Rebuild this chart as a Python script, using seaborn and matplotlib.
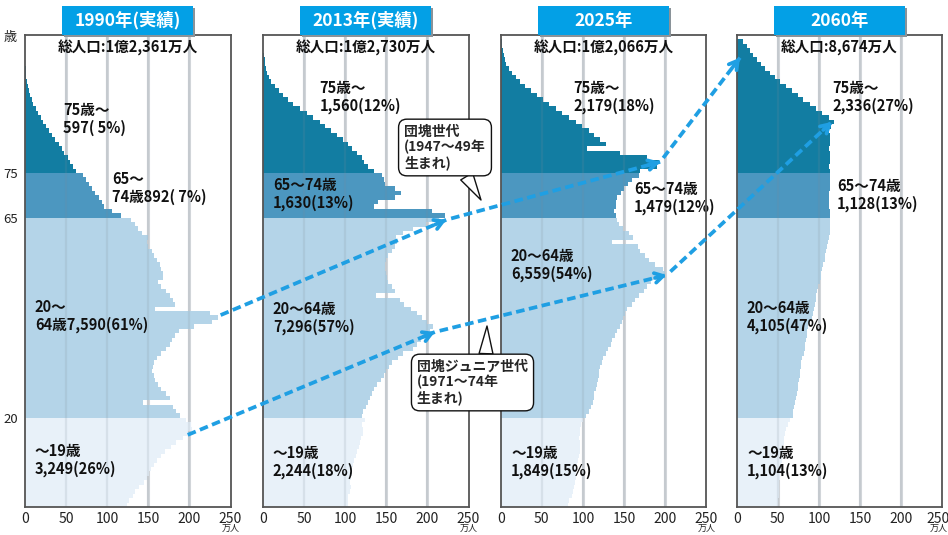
import numpy as np
import pandas as pd
import matplotlib
matplotlib.use("Agg")
import matplotlib.pyplot as plt
import matplotlib.transforms as mtransforms
import seaborn as sns
from matplotlib.patches import FancyBboxPatch, FancyArrowPatch
from matplotlib.lines import Line2D

# ---- data: population by single year of age (万人); list index = age ----
pop_1990 = [
    124, 127, 131, 134, 139, 145, 148, 151, 153, 157,
    160, 165, 170, 178, 184, 192, 198, 203, 202, 196,
    188, 184, 180, 143, 176, 172, 166, 162, 158, 157,
    155, 156, 157, 160, 165, 172, 176, 179, 182, 187,
    205, 228, 235, 225, 158, 182, 180, 176, 172, 165,
    162, 168, 168, 166, 164, 160, 157, 154, 150, 148,
    150, 142, 137, 134, 129,
    117, 106, 96, 94, 90, 85, 82, 78, 74, 70,
    62, 58, 55, 52, 48, 45, 41, 37, 33, 29,
    26, 22, 19, 16, 13, 10, 8, 6, 4.5, 3.5,
    2.5, 1.8, 1.2, 0.8, 0.5, 0.4,
]
pop_2013 = [
    103, 104, 104, 106, 107, 106, 107, 108, 108, 110,
    111, 113, 114, 117, 118, 119, 122, 122, 121, 124,
    120, 122, 125, 128, 130, 132, 135, 139, 143, 147,
    150, 153, 157, 164, 170, 182, 187, 192, 198, 203,
    207, 200, 193, 187, 180, 172, 167, 138, 160, 157,
    152, 151, 150, 149, 148, 150, 152, 157, 160, 163,
    162, 170, 182, 198, 214,
    222, 205, 135, 140, 160, 168, 160, 148, 147, 145,
    135, 128, 123, 120, 114, 108, 103, 97, 90, 83,
    76, 69, 61, 53, 45, 37, 30, 24, 19, 14,
    10, 7, 5, 3.5, 2.5, 2, 1,
]
pop_2025 = [
    82, 83, 87, 88, 89, 90, 91, 91, 92, 93,
    94, 95, 96, 96, 96, 95, 96, 97, 98, 100,
    104, 108, 110, 112, 113, 114, 116, 117, 118, 119,
    120, 121, 123, 125, 128, 131, 134, 136, 139, 142,
    145, 147, 149, 151, 154, 160, 163, 168, 174, 178,
    183, 195, 200, 198, 188, 180, 175, 170, 167, 135,
    161, 156, 149, 144, 141,
    140, 138, 140, 140, 142, 146, 150, 155, 160, 168,
    170, 190, 192, 178, 145, 105, 128, 121, 114, 107,
    99, 91, 83, 75, 67, 59, 51, 44, 37, 30,
    24, 19, 14, 10, 7, 5, 3.5, 2.5, 1.5, 1,
]
pop_2060 = [
    50, 50, 51, 51, 52, 52, 53, 53, 54, 54,
    55, 55, 56, 56, 57, 58, 59, 60, 62, 65,
    68, 69, 70, 71, 72, 73, 74, 75, 76, 77,
    77, 78, 78, 79, 82, 83, 83, 84, 85, 86,
    87, 89, 91, 93, 94, 95, 96, 97, 98, 99,
    101, 102, 103, 104, 105, 107, 108, 109, 110, 111,
    112, 113, 113, 114, 114,
    114, 113, 112, 112, 112, 112, 113, 113, 113, 114,
    114, 112, 113, 114, 113, 112, 113, 114, 113, 112,
    115, 118, 112, 104, 97, 89, 81, 74, 67, 60,
    53, 47, 41, 35, 30, 25, 20, 16, 12, 8,
]

years = ["1990年(実績)", "2013年(実績)", "2025年", "2060年"]
totals = ["総人口:1億2,361万人", "総人口:1億2,730万人",
          "総人口:1億2,066万人", "総人口:8,674万人"]
labels_1990 = ["～19歳\n3,249(26%)", "20～\n64歳7,590(61%)", "65～\n74歳892( 7%)", "75歳～\n597( 5%)"]
labels_2013 = ["～19歳\n2,244(18%)", "20～64歳\n7,296(57%)", "65～74歳\n1,630(13%)", "75歳～\n1,560(12%)"]
labels_2025 = ["～19歳\n1,849(15%)", "20～64歳\n6,559(54%)", "65～74歳\n1,479(12%)", "75歳～\n2,179(18%)"]
labels_2060 = ["～19歳\n1,104(13%)", "20～64歳\n4,105(47%)", "65～74歳\n1,128(13%)", "75歳～\n2,336(27%)"]
x_ticks = [0, 50, 100, 150, 200, 250]
age_ticks = [20, 65, 75]

# ---- style ----
sns.set_style("white")
plt.rcParams["font.family"] = ["Noto Sans CJK JP", "DejaVu Sans"]

group_order = ["0-19", "20-64", "65-74", "75+"]
palette = {"0-19": "#e8f1f9", "20-64": "#b4d4e8", "65-74": "#4c97c0", "75+": "#127da2"}
title_blue = "#03a0e6"
arrow_blue = "#1f9fe3"


def age_group(a):
    if a < 20:
        return "0-19"
    if a < 65:
        return "20-64"
    if a < 75:
        return "65-74"
    return "75+"


W, H = 948, 535
fig = plt.figure(figsize=(W / 100, H / 100), dpi=100)
fig.patch.set_facecolor("white")

panel_left = [25, 263, 500.7, 736.7]
panel_w = 205.5
top_px, bottom_px = 35, 507
YMAX = 106

label_places = [
    [(12, 10.6), (12, 42.9), (106, 71.7), (46, 87.2)],
    [(12, 10.1), (12, 42.5), (12, 70.3), (69, 92.1)],
    [(12.5, 10.1), (12.5, 54.4), (162, 69.4), (88, 92.1)],
    [(12.5, 10.1), (12.5, 42.7), (122, 70.1), (116, 92.1)],
]
all_pops = [pop_1990, pop_2013, pop_2025, pop_2060]
all_labels = [labels_1990, labels_2013, labels_2025, labels_2060]

axes = []
for i, pops in enumerate(all_pops):
    rect = [panel_left[i] / W, (H - bottom_px) / H, panel_w / W, (bottom_px - top_px) / H]
    ax = fig.add_axes(rect)
    ages = np.arange(len(pops))
    df = pd.DataFrame({
        "mid": ages + 0.5,
        "pop": pops,
        "group": [age_group(a) for a in ages],
    })
    sns.barplot(data=df, x="pop", y="mid", hue="group", hue_order=group_order,
                palette=palette, orient="h", native_scale=True, dodge=False,
                width=1.0, errorbar=None, saturation=1, legend=False, ax=ax)
    # one-year bars stacked edge to edge
    for p in ax.patches:
        yc = p.get_y() + p.get_height() / 2
        p.set_y(yc - 0.51)
        p.set_height(1.02)
        p.set_edgecolor("none")
        p.set_linewidth(0)
        p.set_zorder(2)

    ax.set_xlim(0, 250)
    ax.set_ylim(0, YMAX)
    ax.set_xlabel("")
    ax.set_ylabel("")

    # vertical guides
    for v in x_ticks[1:-1]:
        ax.axvline(v, color="#d3d7db", lw=2.2, zorder=1)
        ax.axvline(v, color="#7d8a96", lw=1.6, alpha=0.16, zorder=3)

    for s in ax.spines.values():
        s.set_color("#555555")
        s.set_linewidth(1.3)
        s.set_zorder(6)

    ax.set_xticks(x_ticks)
    ax.set_xticklabels([str(t) for t in x_ticks])
    ax.tick_params(axis="x", length=0, pad=3.5, labelsize=10, labelcolor="#222222")
    if i == 0:
        ax.set_yticks(age_ticks)
        ax.set_yticklabels([str(t) for t in age_ticks])
        ax.tick_params(axis="y", length=0, pad=5, labelsize=9.5, labelcolor="#222222")
    else:
        ax.set_yticks([])

    unit_dx = 0
    if i == len(all_pops) - 1:
        # keep the last scale label inside the canvas
        unit_dx = -4
        last = ax.get_xticklabels()[-1]
        last.set_transform(last.get_transform() +
                           mtransforms.ScaledTranslation(unit_dx / 100, 0, fig.dpi_scale_trans))

    ax.annotate("万人", xy=(1, 0), xycoords="axes fraction", xytext=(unit_dx * 0.72, -12.5),
                textcoords="offset points", ha="center", va="top", fontsize=6.5,
                color="#222222", annotation_clip=False)

    # year header box with a soft shadow
    bx0, bx1, by0, by1 = 0.18, 0.8175, 1.0, 1.0 + 29 / 472
    shadow = FancyBboxPatch((bx0 + 0.012, by0 - 0.005), bx1 - bx0, by1 - by0,
                            boxstyle="square,pad=0", transform=ax.transAxes,
                            fc="#8a9399", ec="none", clip_on=False, zorder=7)
    box = FancyBboxPatch((bx0, by0), bx1 - bx0, by1 - by0,
                         boxstyle="square,pad=0", transform=ax.transAxes,
                         fc=title_blue, ec="none", clip_on=False, zorder=8)
    ax.add_patch(shadow)
    ax.add_patch(box)
    ax.text((bx0 + bx1) / 2, (by0 + by1) / 2, years[i], transform=ax.transAxes,
            ha="center", va="center", color="white", fontsize=12.5,
            fontweight="bold", zorder=9, clip_on=False)

    ax.text(125, 103.2, totals[i], ha="center", va="center", fontsize=10.5,
            fontweight="bold", color="#111111", zorder=5)
    for (vx, vy), txt in zip(label_places[i], all_labels[i]):
        ax.text(vx, vy, txt, ha="left", va="center", fontsize=10.5,
                fontweight="bold", color="#111111", linespacing=1.15, zorder=5)
    axes.append(ax)

fig.text(10 / W, 1 - 38 / H, "歳", ha="center", va="center", fontsize=9.5, color="#222222")

# ---- cohort arrows across panels ----
inv = fig.transFigure.inverted()


def disp(panel, v, a):
    return np.asarray(axes[panel].transData.transform((v, a)))


def draw_cohort(anchors):
    pts = [disp(*p) for p in anchors]
    for k in range(len(pts) - 1):
        p0, p1 = pts[k].copy(), pts[k + 1]
        d = p1 - p0
        u = d / np.hypot(*d)
        if k > 0:
            p0 = p0 + 5 * u
        f0, f1 = inv.transform(p0), inv.transform(p1)
        fig.add_artist(Line2D([f0[0], f1[0]], [f0[1], f1[1]], transform=fig.transFigure,
                              color=arrow_blue, lw=2.7, linestyle=(0, (2.3, 1.2)),
                              zorder=10))
        hb = inv.transform(p1 - 12 * u)
        fig.add_artist(FancyArrowPatch(posA=tuple(hb), posB=tuple(f1),
                                       transform=fig.transFigure,
                                       arrowstyle="->,head_length=6,head_width=3.5",
                                       color=arrow_blue, lw=2.7, zorder=10,
                                       shrinkA=0, shrinkB=0))


draw_cohort([(0, 238, 43.1), (1, 223, 64.5), (2, 194, 77.5), (3, 4, 100.9)])
draw_cohort([(0, 198, 16.2), (1, 209, 39.3), (2, 202, 52.1), (3, 116, 86.5)])

# ---- callouts on a transparent overlay so they sit above every panel ----
overlay = fig.add_axes([0, 0, 1, 1], zorder=20)
overlay.set_axis_off()
overlay.patch.set_alpha(0)
overlay.set_xlim(0, 1)
overlay.set_ylim(0, 1)

callout_box = dict(boxstyle="round,pad=0.4,rounding_size=0.6", fc="white", ec="#111111", lw=1.0)
overlay.annotate("団塊世代\n(1947～49年\n生まれ)",
                 xy=(481 / W, 1 - 200 / H), xycoords="figure fraction",
                 xytext=(445 / W, 1 - 147.5 / H), textcoords="figure fraction",
                 ha="center", va="center", multialignment="left",
                 fontsize=10, fontweight="bold", linespacing=1.1, bbox=callout_box,
                 arrowprops=dict(arrowstyle="wedge,tail_width=1.0,shrink_factor=0.5",
                                 fc="white", ec="#111111", lw=1.0, relpos=(0.72, 0),
                                 shrinkA=0, shrinkB=0),
                 annotation_clip=False)
overlay.annotate("団塊ジュニア世代\n(1971～74年\n生まれ)",
                 xy=(487 / W, 1 - 326 / H), xycoords="figure fraction",
                 xytext=(472.5 / W, 1 - 382.5 / H), textcoords="figure fraction",
                 ha="center", va="center", multialignment="left",
                 fontsize=10, fontweight="bold", linespacing=1.1, bbox=callout_box,
                 arrowprops=dict(arrowstyle="wedge,tail_width=1.0,shrink_factor=0.5",
                                 fc="white", ec="#111111", lw=1.0, relpos=(0.62, 1),
                                 shrinkA=0, shrinkB=0),
                 annotation_clip=False)

fig.savefig("out.png", dpi=100, facecolor="white")
